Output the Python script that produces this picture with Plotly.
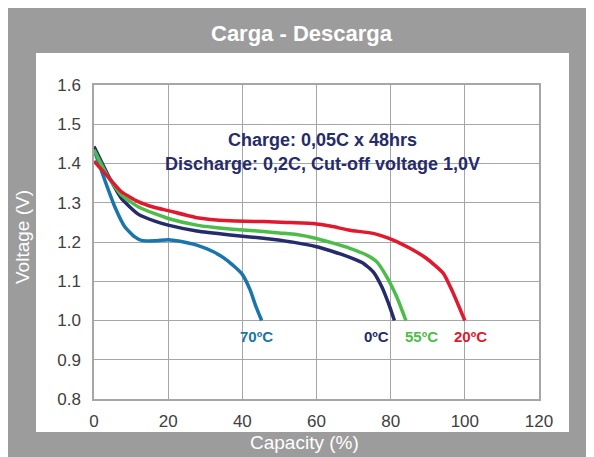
import plotly.graph_objects as go

# ---- data ----
cap_70 = [0, 2.9, 5.6, 8.3, 11, 12.8, 16.4, 20, 23.2, 27.7, 32.2, 35.8, 39.8, 42.1, 43.5, 45.2]
v_70 = [1.435, 1.358, 1.29, 1.239, 1.213, 1.204, 1.203, 1.206, 1.202, 1.192, 1.175, 1.154, 1.12, 1.078, 1.04, 1.0]

cap_0 = [0, 3.8, 7.4, 11.9, 16.4, 20, 27.7, 36.7, 42.1, 48, 54, 60, 64, 67.2, 70, 72.6, 75.3, 77.6, 79.4, 81]
v_0 = [1.443, 1.37, 1.311, 1.271, 1.253, 1.243, 1.228, 1.218, 1.213, 1.207, 1.199, 1.188, 1.177, 1.167, 1.157, 1.146, 1.124, 1.086, 1.044, 1.0]

cap_55 = [0, 3.8, 7.4, 11.9, 16.4, 20, 27.7, 36.7, 45.7, 50, 54.6, 60, 64.5, 69, 73.5, 76.2, 78.9, 81.6, 84.1]
v_55 = [1.435, 1.366, 1.32, 1.29, 1.272, 1.26, 1.243, 1.233, 1.227, 1.223, 1.219, 1.209, 1.197, 1.184, 1.167, 1.15, 1.112, 1.061, 1.0]

cap_20 = [0, 3.8, 7.4, 11.9, 16.4, 20, 27.7, 36.7, 45.7, 52, 59.1, 64, 69, 75.3, 80.7, 85.2, 89.7, 94.2, 96.9, 100]
v_20 = [1.406, 1.366, 1.328, 1.303, 1.288, 1.28, 1.262, 1.254, 1.252, 1.25, 1.247, 1.24, 1.23, 1.222, 1.205, 1.184, 1.158, 1.12, 1.069, 1.0]

series = [
    ("70ºC", cap_70, v_70, "#1a75ab", 43.9),
    ("0ºC", cap_0, v_0, "#262b6b", 76.2),
    ("55ºC", cap_55, v_55, "#4cbd48", 88.3),
    ("20ºC", cap_20, v_20, "#e0192e", 101.4),
]
label_y = 0.958

x_ticks = [0, 20, 40, 60, 80, 100, 120]
y_ticks = [0.8, 0.9, 1.0, 1.1, 1.2, 1.3, 1.4, 1.5, 1.6]

FONT = "Arial, Liberation Sans, sans-serif"

fig = go.Figure()
for name, xs, ys, col, lx in series:
    fig.add_trace(go.Scatter(x=xs, y=ys, mode="lines", name=name,
                             line=dict(color=col, width=3.5, shape="spline", smoothing=0.5),
                             showlegend=False))
    fig.add_annotation(x=lx, y=label_y, text="<b>%s</b>" % name, showarrow=False,
                       xanchor="center", yanchor="middle",
                       font=dict(family=FONT, size=15, color=col), xref="x", yref="y")

# page body has an 8px margin: figure is offset by OFF in the screenshot
OFF = 8
SW, SH = 594, 457            # screenshot size
L, R, T, B = 94, 539, 85, 399  # plot area in screenshot pixels
W, H = SW - OFF, SH - OFF
pw, ph = R - L, B - T
def px(x): return (x - L) / pw
def py(y): return (B - y) / ph

fig.add_shape(type="rect", xref="paper", yref="paper", x0=px(0), x1=px(610), y0=py(470), y1=py(8),
              fillcolor="#9c9c9c", line=dict(width=0), layer="below")
fig.add_shape(type="rect", xref="paper", yref="paper", x0=px(36), x1=px(569), y0=py(432), y1=py(53),
              fillcolor="white", line=dict(width=0), layer="below")

def note(x, y, text, size, color, angle=0):
    fig.add_annotation(x=px(x), y=py(y), xref="paper", yref="paper", text=text, textangle=angle,
                       showarrow=False, xanchor="center", yanchor="middle",
                       font=dict(family=FONT, size=size, color=color))

note(302, 33, "<b>Carga - Descarga</b>", 22, "white")
note(22, 237, "Voltage (V)", 19, "white", -90)
note(304, 442, "Capacity (%)", 19, "white")
note(322, 140, "<b>Charge: 0,05C x 48hrs</b>", 18, "#262b6b")
note(322, 164, "<b>Discharge: 0,2C, Cut-off voltage 1,0V</b>", 18, "#262b6b")

fig.update_layout(
    width=W, height=H,
    margin=dict(l=L - OFF, r=SW - R, t=T - OFF, b=SH - B, pad=0),
    paper_bgcolor="white", plot_bgcolor="rgba(0,0,0,0)",
    font=dict(family=FONT, size=17, color="#404040"),
)
fig.update_xaxes(range=[0, 120], tickvals=x_ticks, ticktext=[str(v) for v in x_ticks],
                 showgrid=True, gridcolor="#a6a6a6", gridwidth=1,
                 showline=True, linecolor="#a6a6a6", linewidth=1.5, mirror=True,
                 zeroline=False, ticks="", ticklabelstandoff=6,
                 tickfont=dict(family=FONT, size=17, color="#404040"))
fig.update_yaxes(range=[0.8, 1.6], tickvals=y_ticks, ticktext=["%.1f" % v for v in y_ticks],
                 showgrid=True, gridcolor="#a6a6a6", gridwidth=1,
                 showline=True, linecolor="#a6a6a6", linewidth=1.5, mirror=True,
                 zeroline=False, ticks="", ticklabelstandoff=8,
                 tickfont=dict(family=FONT, size=17, color="#404040"))

fig.write_html("out.html")
